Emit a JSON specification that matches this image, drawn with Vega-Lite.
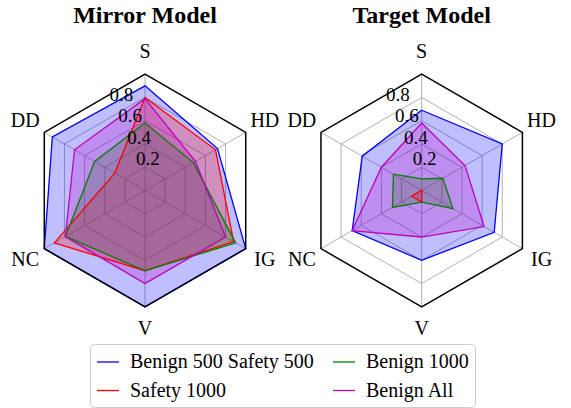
{
  "$schema": "https://vega.github.io/schema/vega-lite/v6.json",
  "width": 571,
  "height": 408,
  "autosize": {"type": "none"},
  "padding": 0,
  "background": "white",
  "config": {"view": {"stroke": null}},
  "datasets": {
    "scores": [
      {"model": "Mirror Model", "series": "Benign 500 Safety 500", "axis": "S", "value": 0.90},
      {"model": "Mirror Model", "series": "Benign 500 Safety 500", "axis": "HD", "value": 0.72},
      {"model": "Mirror Model", "series": "Benign 500 Safety 500", "axis": "IG", "value": 1.0},
      {"model": "Mirror Model", "series": "Benign 500 Safety 500", "axis": "V", "value": 1.0},
      {"model": "Mirror Model", "series": "Benign 500 Safety 500", "axis": "NC", "value": 1.0},
      {"model": "Mirror Model", "series": "Benign 500 Safety 500", "axis": "DD", "value": 0.92},
      {"model": "Mirror Model", "series": "Safety 1000", "axis": "S", "value": 0.80},
      {"model": "Mirror Model", "series": "Safety 1000", "axis": "HD", "value": 0.70},
      {"model": "Mirror Model", "series": "Safety 1000", "axis": "IG", "value": 0.88},
      {"model": "Mirror Model", "series": "Safety 1000", "axis": "V", "value": 0.69},
      {"model": "Mirror Model", "series": "Safety 1000", "axis": "NC", "value": 0.90},
      {"model": "Mirror Model", "series": "Safety 1000", "axis": "DD", "value": 0.30},
      {"model": "Mirror Model", "series": "Benign 1000", "axis": "S", "value": 0.58},
      {"model": "Mirror Model", "series": "Benign 1000", "axis": "HD", "value": 0.48},
      {"model": "Mirror Model", "series": "Benign 1000", "axis": "IG", "value": 0.90},
      {"model": "Mirror Model", "series": "Benign 1000", "axis": "V", "value": 0.69},
      {"model": "Mirror Model", "series": "Benign 1000", "axis": "NC", "value": 0.79},
      {"model": "Mirror Model", "series": "Benign 1000", "axis": "DD", "value": 0.50},
      {"model": "Mirror Model", "series": "Benign All", "axis": "S", "value": 0.79},
      {"model": "Mirror Model", "series": "Benign All", "axis": "HD", "value": 0.50},
      {"model": "Mirror Model", "series": "Benign All", "axis": "IG", "value": 0.80},
      {"model": "Mirror Model", "series": "Benign All", "axis": "V", "value": 0.80},
      {"model": "Mirror Model", "series": "Benign All", "axis": "NC", "value": 0.79},
      {"model": "Mirror Model", "series": "Benign All", "axis": "DD", "value": 0.70},
      {"model": "Target Model", "series": "Benign 500 Safety 500", "axis": "S", "value": 0.69},
      {"model": "Target Model", "series": "Benign 500 Safety 500", "axis": "HD", "value": 0.80},
      {"model": "Target Model", "series": "Benign 500 Safety 500", "axis": "IG", "value": 0.72},
      {"model": "Target Model", "series": "Benign 500 Safety 500", "axis": "V", "value": 0.60},
      {"model": "Target Model", "series": "Benign 500 Safety 500", "axis": "NC", "value": 0.69},
      {"model": "Target Model", "series": "Benign 500 Safety 500", "axis": "DD", "value": 0.59},
      {"model": "Target Model", "series": "Safety 1000", "axis": "S", "value": 0.0},
      {"model": "Target Model", "series": "Safety 1000", "axis": "HD", "value": 0.0},
      {"model": "Target Model", "series": "Safety 1000", "axis": "IG", "value": 0.0},
      {"model": "Target Model", "series": "Safety 1000", "axis": "V", "value": 0.10},
      {"model": "Target Model", "series": "Safety 1000", "axis": "NC", "value": 0.10},
      {"model": "Target Model", "series": "Safety 1000", "axis": "DD", "value": 0.0},
      {"model": "Target Model", "series": "Benign 1000", "axis": "S", "value": 0.10},
      {"model": "Target Model", "series": "Benign 1000", "axis": "HD", "value": 0.21},
      {"model": "Target Model", "series": "Benign 1000", "axis": "IG", "value": 0.31},
      {"model": "Target Model", "series": "Benign 1000", "axis": "V", "value": 0.10},
      {"model": "Target Model", "series": "Benign 1000", "axis": "NC", "value": 0.29},
      {"model": "Target Model", "series": "Benign 1000", "axis": "DD", "value": 0.28},
      {"model": "Target Model", "series": "Benign All", "axis": "S", "value": 0.58},
      {"model": "Target Model", "series": "Benign All", "axis": "HD", "value": 0.43},
      {"model": "Target Model", "series": "Benign All", "axis": "IG", "value": 0.62},
      {"model": "Target Model", "series": "Benign All", "axis": "V", "value": 0.40},
      {"model": "Target Model", "series": "Benign All", "axis": "NC", "value": 0.69},
      {"model": "Target Model", "series": "Benign All", "axis": "DD", "value": 0.40}
    ],
    "grid": [
      {"model": "Mirror Model", "level": 0.2, "axis": ["S", "HD", "IG", "V", "NC", "DD"]},
      {"model": "Mirror Model", "level": 0.4, "axis": ["S", "HD", "IG", "V", "NC", "DD"]},
      {"model": "Mirror Model", "level": 0.6, "axis": ["S", "HD", "IG", "V", "NC", "DD"]},
      {"model": "Mirror Model", "level": 0.8, "axis": ["S", "HD", "IG", "V", "NC", "DD"]},
      {"model": "Mirror Model", "level": 1.0, "axis": ["S", "HD", "IG", "V", "NC", "DD"]},
      {"model": "Target Model", "level": 0.2, "axis": ["S", "HD", "IG", "V", "NC", "DD"]},
      {"model": "Target Model", "level": 0.4, "axis": ["S", "HD", "IG", "V", "NC", "DD"]},
      {"model": "Target Model", "level": 0.6, "axis": ["S", "HD", "IG", "V", "NC", "DD"]},
      {"model": "Target Model", "level": 0.8, "axis": ["S", "HD", "IG", "V", "NC", "DD"]},
      {"model": "Target Model", "level": 1.0, "axis": ["S", "HD", "IG", "V", "NC", "DD"]}
    ]
  },
  "layer": [
    {
      "data": {"name": "grid"},
      "transform": [
        {"filter": "datum.level < 0.99"},
        {"flatten": ["axis"]},
        {"calculate": "indexof(['S','HD','IG','V','NC','DD'], datum.axis)", "as": "idx"},
        {"calculate": "datum.model == 'Target Model' ? 2.379 : 0", "as": "off"},
        {"calculate": "datum.off + datum.level * cos(PI/2 - datum.idx * PI/3)", "as": "px"},
        {"calculate": "datum.level * sin(PI/2 - datum.idx * PI/3)", "as": "py"}
      ],
      "mark": {"type": "line", "interpolate": "linear-closed", "stroke": "#b0b0b0", "strokeWidth": 1},
      "encoding": {
        "x": {"field": "px", "type": "quantitative", "scale": {"domain": [-1.2468, 3.6629], "nice": false, "zero": false}, "axis": null},
        "y": {"field": "py", "type": "quantitative", "scale": {"domain": [-1.8702, 1.638], "nice": false, "zero": false}, "axis": null},
        "detail": [{"field": "model"}, {"field": "level"}],
        "order": {"field": "idx"}
      }
    },
    {
      "data": {"name": "grid"},
      "transform": [
        {"filter": "datum.level > 0.99"},
        {"flatten": ["axis"]},
        {"calculate": "indexof(['S','HD','IG','V','NC','DD'], datum.axis)", "as": "idx"},
        {"calculate": "datum.model == 'Target Model' ? 2.379 : 0", "as": "off"},
        {"calculate": "0", "as": "zero"},
        {"calculate": "datum.off + datum.level * cos(PI/2 - datum.idx * PI/3)", "as": "px"},
        {"calculate": "datum.level * sin(PI/2 - datum.idx * PI/3)", "as": "py"}
      ],
      "mark": {"type": "rule", "stroke": "#b0b0b0", "strokeWidth": 1},
      "encoding": {
        "x": {"field": "off", "type": "quantitative", "scale": {"domain": [-1.2468, 3.6629], "nice": false, "zero": false}, "axis": null},
        "y": {"field": "zero", "type": "quantitative", "scale": {"domain": [-1.8702, 1.638], "nice": false, "zero": false}, "axis": null},
        "x2": {"field": "px"},
        "y2": {"field": "py"}
      }
    },
    {
      "data": {"name": "scores"},
      "transform": [
        {"calculate": "indexof(['S','HD','IG','V','NC','DD'], datum.axis)", "as": "idx"},
        {"calculate": "datum.model == 'Target Model' ? 2.379 : 0", "as": "off"},
        {"calculate": "datum.off + datum.value * cos(PI/2 - datum.idx * PI/3)", "as": "px"},
        {"calculate": "datum.value * sin(PI/2 - datum.idx * PI/3)", "as": "py"}
      ],
      "mark": {"type": "line", "interpolate": "linear-closed", "fillOpacity": 0.25, "strokeOpacity": 0, "strokeWidth": 0},
      "encoding": {
        "x": {"field": "px", "type": "quantitative", "scale": {"domain": [-1.2468, 3.6629], "nice": false, "zero": false}, "axis": null},
        "y": {"field": "py", "type": "quantitative", "scale": {"domain": [-1.8702, 1.638], "nice": false, "zero": false}, "axis": null},
        "fill": {"field": "series", "type": "nominal", "scale": {"domain": ["Benign 500 Safety 500", "Benign 1000", "Safety 1000", "Benign All"], "range": ["#0000ff", "#008000", "#ff0000", "#bf00bf"]}, "legend": null},
        "detail": {"field": "model"},
        "order": {"field": "idx"}
      }
    },
    {
      "data": {"name": "scores"},
      "transform": [
        {"calculate": "indexof(['S','HD','IG','V','NC','DD'], datum.axis)", "as": "idx"},
        {"calculate": "datum.model == 'Target Model' ? 2.379 : 0", "as": "off"},
        {"calculate": "datum.off + datum.value * cos(PI/2 - datum.idx * PI/3)", "as": "px"},
        {"calculate": "datum.value * sin(PI/2 - datum.idx * PI/3)", "as": "py"}
      ],
      "mark": {"type": "line", "interpolate": "linear-closed", "strokeWidth": 1.3},
      "encoding": {
        "x": {"field": "px", "type": "quantitative", "scale": {"domain": [-1.2468, 3.6629], "nice": false, "zero": false}, "axis": null},
        "y": {"field": "py", "type": "quantitative", "scale": {"domain": [-1.8702, 1.638], "nice": false, "zero": false}, "axis": null},
        "stroke": {
          "field": "series", "type": "nominal",
          "scale": {"domain": ["Benign 500 Safety 500", "Safety 1000", "Benign 1000", "Benign All"], "range": ["#0000ff", "#ff0000", "#008000", "#bf00bf"]},
          "legend": {
            "title": null, "orient": "none", "legendX": 90, "legendY": 344, "columns": 2,
            "symbolType": "stroke", "symbolSize": 484, "symbolStrokeWidth": 1.3, "symbolOpacity": 1,
            "labelFont": "Liberation Serif", "labelFontSize": 20, "labelColor": "black", "labelLimit": 400,
            "labelOffset": 10, "columnPadding": 16, "rowPadding": 6.5, "padding": 6,
            "strokeColor": "#cccccc", "fillColor": "white", "cornerRadius": 4
          }
        },
        "detail": {"field": "model"},
        "order": {"field": "idx"}
      }
    },
    {
      "data": {"name": "grid"},
      "transform": [
        {"filter": "datum.level > 0.99"},
        {"flatten": ["axis"]},
        {"calculate": "indexof(['S','HD','IG','V','NC','DD'], datum.axis)", "as": "idx"},
        {"calculate": "datum.model == 'Target Model' ? 2.379 : 0", "as": "off"},
        {"calculate": "datum.off + datum.level * cos(PI/2 - datum.idx * PI/3)", "as": "px"},
        {"calculate": "datum.level * sin(PI/2 - datum.idx * PI/3)", "as": "py"}
      ],
      "mark": {"type": "line", "interpolate": "linear-closed", "stroke": "black", "strokeWidth": 1.5},
      "encoding": {
        "x": {"field": "px", "type": "quantitative", "scale": {"domain": [-1.2468, 3.6629], "nice": false, "zero": false}, "axis": null},
        "y": {"field": "py", "type": "quantitative", "scale": {"domain": [-1.8702, 1.638], "nice": false, "zero": false}, "axis": null},
        "detail": {"field": "model"},
        "order": {"field": "idx"}
      }
    },
    {
      "data": {"name": "grid"},
      "transform": [
        {"filter": "datum.level > 0.99"},
        {"flatten": ["axis"]},
        {"calculate": "indexof(['S','HD','IG','V','NC','DD'], datum.axis)", "as": "idx"},
        {"calculate": "datum.model == 'Target Model' ? 2.379 : 0", "as": "off"},
        {"calculate": "datum.off + 1.19 * cos(PI/2 - datum.idx * PI/3)", "as": "px"},
        {"calculate": "1.19 * sin(PI/2 - datum.idx * PI/3)", "as": "py"}
      ],
      "mark": {"type": "text", "font": "Liberation Serif", "fontSize": 20, "color": "black", "align": "center", "baseline": "middle"},
      "encoding": {
        "x": {"field": "px", "type": "quantitative", "scale": {"domain": [-1.2468, 3.6629], "nice": false, "zero": false}, "axis": null},
        "y": {"field": "py", "type": "quantitative", "scale": {"domain": [-1.8702, 1.638], "nice": false, "zero": false}, "axis": null},
        "text": {"field": "axis"}
      }
    },
    {
      "data": {"name": "grid"},
      "transform": [
        {"filter": "datum.level < 0.99"},
        {"calculate": "datum.model == 'Target Model' ? 2.379 : 0", "as": "off"},
        {"calculate": "datum.off + datum.level * cos(PI * 112.5 / 180)", "as": "px"},
        {"calculate": "datum.level * sin(PI * 112.5 / 180)", "as": "py"},
        {"calculate": "format(datum.level, '.1f')", "as": "lab"}
      ],
      "mark": {"type": "text", "font": "Liberation Serif", "fontSize": 19, "color": "black", "align": "left", "baseline": "bottom"},
      "encoding": {
        "x": {"field": "px", "type": "quantitative", "scale": {"domain": [-1.2468, 3.6629], "nice": false, "zero": false}, "axis": null},
        "y": {"field": "py", "type": "quantitative", "scale": {"domain": [-1.8702, 1.638], "nice": false, "zero": false}, "axis": null},
        "text": {"field": "lab"}
      }
    },
    {
      "data": {"name": "grid"},
      "transform": [
        {"filter": "datum.level > 0.99"},
        {"calculate": "datum.model == 'Target Model' ? 2.379 : 0", "as": "off"}
      ],
      "mark": {"type": "text", "font": "Liberation Serif", "fontSize": 24, "fontWeight": "bold", "color": "black", "align": "center", "baseline": "middle"},
      "encoding": {
        "x": {"field": "off", "type": "quantitative", "scale": {"domain": [-1.2468, 3.6629], "nice": false, "zero": false}, "axis": null},
        "y": {"datum": 1.497, "type": "quantitative", "scale": {"domain": [-1.8702, 1.638], "nice": false, "zero": false}, "axis": null},
        "text": {"field": "model"}
      }
    }
  ]
}
